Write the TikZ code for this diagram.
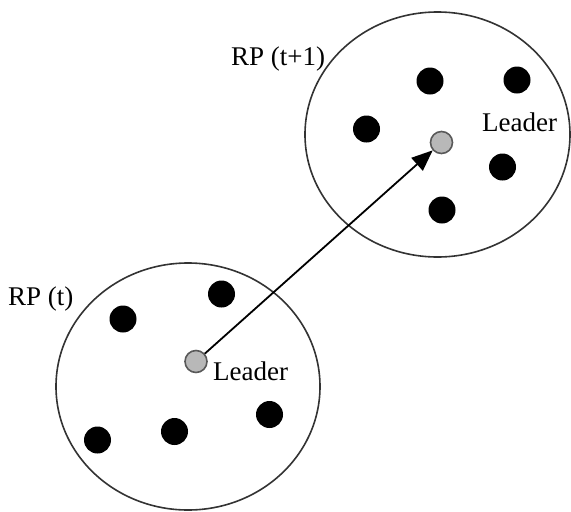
\documentclass[tikz,border=0pt]{standalone}
\usepackage{fontspec}
\setmainfont{Liberation Serif}
\usetikzlibrary{arrows.meta,shapes.geometric}
\begin{document}
\begin{tikzpicture}[x=1pt,y=-1pt,
  region/.style={draw=black!80,line width=1.6pt,ellipse,inner sep=0pt},
  member/.style={circle,fill=black,minimum size=27pt,inner sep=0pt},
  leader/.style={circle,fill=black!28,draw=black!65,line width=1.6pt,minimum size=22pt,inner sep=0pt},
  lbl/.style={font=\fontsize{27}{30}\selectfont,anchor=base west,inner sep=0pt},
  move/.style={line width=1.8pt,-{Triangle[length=21pt,width=17pt]}}]
\useasboundingbox (0,0) rectangle (571,512);
% regions
\node[region,minimum width=265pt,minimum height=245pt] (R1) at (437.5,134.5) {};
\node[region,minimum width=264pt,minimum height=247pt] (R0) at (188,386.5) {};
% members upper
\node[member] (u1) at (430,81) {};
\node[member] (u2) at (517,80) {};
\node[member] (u3) at (366.5,129) {};
\node[member] (u4) at (502.5,167) {};
\node[member] (u5) at (442,210) {};
% members lower
\node[member] (d1) at (221.5,294) {};
\node[member] (d2) at (123,319) {};
\node[member] (d3) at (269.5,414.5) {};
\node[member] (d4) at (174.5,431.5) {};
\node[member] (d5) at (97.5,440) {};
% leaders
\node[leader] (L1) at (441.5,142.5) {};
\node[leader] (L0) at (196,361.5) {};
% labels
\node[lbl] (t1) at (231,65) {RP (t+1)};
\node[lbl] (t0) at (8,305) {RP (t)};
\node[lbl] (n1) at (482,131) {Leader};
\node[lbl] (n0) at (213,380) {Leader};
% arrow
\draw[move] (L0) -- (L1);
\end{tikzpicture}
\end{document}
